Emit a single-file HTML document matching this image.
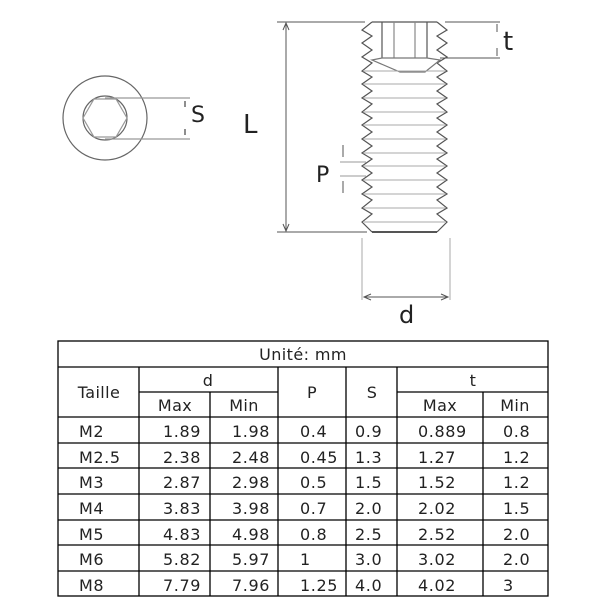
<!DOCTYPE html>
<html><head><meta charset="utf-8"><style>
html,body{margin:0;padding:0;background:#fff;width:600px;height:600px;overflow:hidden}
svg{display:block}
text{font-family:"DejaVu Sans","Liberation Sans",sans-serif;fill:#222}
</style></head><body>
<svg width="600" height="600" viewBox="0 0 600 600" xmlns="http://www.w3.org/2000/svg">
<g fill="none" stroke="#666" stroke-width="1.2">
<circle cx="105" cy="118" r="42"/>
<circle cx="105" cy="118" r="22"/>
<polygon points="83,118 94,99 116,99 127,118 116,137 94,137" stroke="#999"/>
<line x1="105" y1="98" x2="190" y2="98" stroke="#999"/>
<line x1="105" y1="139" x2="190" y2="139" stroke="#999"/>
<line x1="185" y1="101" x2="185" y2="136" stroke="#444" stroke-dasharray="6,22"/>
</g>
<text x="191" y="122" font-size="22" fill="#333">S</text>

<g stroke="#555" stroke-width="1" fill="none">
<line x1="277" y1="22" x2="365" y2="22"/>
<line x1="277" y1="232" x2="367" y2="232"/>
<line x1="286" y1="24" x2="286" y2="230"/>
<polyline points="283,30 286,23 289,30"/>
<polyline points="283,224 286,231 289,224"/>
<line x1="445" y1="22" x2="500" y2="22"/>
<line x1="440" y1="58" x2="500" y2="58"/>
<line x1="497" y1="24" x2="497" y2="56" stroke-dasharray="8,16"/>
<line x1="340" y1="162" x2="366" y2="162" stroke="#999"/>
<line x1="340" y1="176" x2="366" y2="176" stroke="#999"/>
<line x1="343" y1="145" x2="343" y2="193" stroke-dasharray="12,24"/>
<line x1="362" y1="238" x2="362" y2="300" stroke="#aaa"/>
<line x1="450" y1="238" x2="450" y2="300" stroke="#aaa"/>
<line x1="364" y1="297" x2="448" y2="297"/>
<polyline points="371,294 364,297 371,300"/>
<polyline points="441,294 448,297 441,300"/>
</g>
<text x="243" y="133" font-size="26" fill="#333">L</text>
<text x="503" y="50" font-size="26" fill="#333">t</text>
<text x="316" y="182" font-size="22" fill="#333">P</text>
<text x="399" y="323" font-size="24" fill="#333">d</text>

<g fill="none" stroke="#555" stroke-width="1.2">
<path d="M372,22 L437,22"/>
<path d="M372,22 L362,30 L372,36 L362,43 L372,50 L362,57 L372,63 L362,71 L372,77 L362,84 L372,91 L362,98 L372,104 L362,112 L372,118 L362,125 L372,132 L362,139 L372,146 L362,153 L372,159 L362,166 L372,173 L362,180 L372,187 L362,194 L372,200 L362,208 L372,214 L362,222 L372,232"/>
<path d="M437,22 L447,30 L437,36 L447,43 L437,50 L447,57 L437,63 L447,71 L437,77 L447,84 L437,91 L447,98 L437,104 L447,112 L437,118 L447,125 L437,132 L447,139 L437,146 L447,153 L437,159 L447,166 L437,173 L447,180 L437,187 L447,194 L437,200 L447,208 L437,214 L447,222 L437,232"/>
<line x1="372" y1="232" x2="437" y2="232" stroke-width="2"/>
<line x1="382" y1="22" x2="382" y2="58"/>
<line x1="427" y1="22" x2="427" y2="58"/>
<line x1="394" y1="22" x2="394" y2="58" stroke="#888"/>
<line x1="415" y1="22" x2="415" y2="58" stroke="#888"/>
<path d="M372,60 L382,58 L427,58 L440,60 L425,72 L400,72 Z" stroke="#777"/>
</g>
<g stroke="#aaa" stroke-width="1">
<line x1="364" y1="71" x2="445" y2="71"/><line x1="364" y1="84" x2="445" y2="84"/>
<line x1="364" y1="98" x2="445" y2="98"/><line x1="364" y1="112" x2="445" y2="112"/>
<line x1="364" y1="125" x2="445" y2="125"/><line x1="364" y1="139" x2="445" y2="139"/>
<line x1="364" y1="153" x2="445" y2="153"/><line x1="364" y1="166" x2="445" y2="166"/>
<line x1="364" y1="180" x2="445" y2="180"/><line x1="364" y1="194" x2="445" y2="194"/>
<line x1="364" y1="208" x2="445" y2="208"/><line x1="364" y1="222" x2="445" y2="222"/>
</g>

<g stroke="#000" stroke-width="1.3" fill="none">
<rect x="58" y="341" width="490" height="255"/>
<line x1="58" y1="367" x2="548" y2="367"/>
<line x1="139" y1="392" x2="278" y2="392"/>
<line x1="397" y1="392" x2="548" y2="392"/>
<line x1="58" y1="417" x2="548" y2="417"/>
<line x1="58" y1="443" x2="548" y2="443"/>
<line x1="58" y1="468" x2="548" y2="468"/>
<line x1="58" y1="494" x2="548" y2="494"/>
<line x1="58" y1="520" x2="548" y2="520"/>
<line x1="58" y1="545" x2="548" y2="545"/>
<line x1="58" y1="571" x2="548" y2="571"/>
<line x1="139" y1="367" x2="139" y2="596"/>
<line x1="210" y1="392" x2="210" y2="596"/>
<line x1="278" y1="367" x2="278" y2="596"/>
<line x1="346" y1="367" x2="346" y2="596"/>
<line x1="397" y1="367" x2="397" y2="596"/>
<line x1="483" y1="392" x2="483" y2="596"/>
</g>
<g font-size="16" text-anchor="middle" letter-spacing="0.4">
<text x="303" y="360">Unité: mm</text>
<text x="99" y="398">Taille</text>
<text x="208" y="386">d</text>
<text x="312" y="398">P</text>
<text x="372" y="398">S</text>
<text x="473" y="386">t</text>
<text x="175" y="411">Max</text>
<text x="244" y="411">Min</text>
<text x="440" y="411">Max</text>
<text x="515" y="411">Min</text>
</g>
<g font-size="16" letter-spacing="0.6">
<g transform="translate(0,437)"><text x="79">M2</text><text x="163">1.89</text><text x="232">1.98</text><text x="300">0.4</text><text x="355">0.9</text><text x="418">0.889</text><text x="503">0.8</text></g>
<g transform="translate(0,463)"><text x="79">M2.5</text><text x="163">2.38</text><text x="232">2.48</text><text x="300">0.45</text><text x="355">1.3</text><text x="418">1.27</text><text x="503">1.2</text></g>
<g transform="translate(0,488)"><text x="79">M3</text><text x="163">2.87</text><text x="232">2.98</text><text x="300">0.5</text><text x="355">1.5</text><text x="418">1.52</text><text x="503">1.2</text></g>
<g transform="translate(0,514)"><text x="79">M4</text><text x="163">3.83</text><text x="232">3.98</text><text x="300">0.7</text><text x="355">2.0</text><text x="418">2.02</text><text x="503">1.5</text></g>
<g transform="translate(0,540)"><text x="79">M5</text><text x="163">4.83</text><text x="232">4.98</text><text x="300">0.8</text><text x="355">2.5</text><text x="418">2.52</text><text x="503">2.0</text></g>
<g transform="translate(0,565)"><text x="79">M6</text><text x="163">5.82</text><text x="232">5.97</text><text x="300">1</text><text x="355">3.0</text><text x="418">3.02</text><text x="503">2.0</text></g>
<g transform="translate(0,591)"><text x="79">M8</text><text x="163">7.79</text><text x="232">7.96</text><text x="300">1.25</text><text x="355">4.0</text><text x="418">4.02</text><text x="503">3</text></g>
</g>
</svg>
</body></html>
